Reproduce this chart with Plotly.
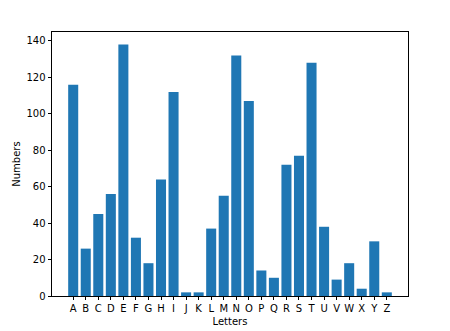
import plotly.graph_objects as go

letters = list("ABCDEFGHIJKLMNOPQRSTUVWXYZ")
numbers = [116, 26, 45, 56, 138, 32, 18, 64, 112, 2, 2, 37, 55, 132, 107, 14, 10, 72, 77, 128, 38, 9, 18, 4, 30, 2]
y_ticks = [0, 20, 40, 60, 80, 100, 120, 140]

x_pos = list(range(len(letters)))

fig = go.Figure(go.Bar(
    x=x_pos, y=numbers, width=0.8,
    marker=dict(color="#1f77b4", line=dict(width=0)),
))

font = dict(family="DejaVu Sans", size=10, color="#000000")
axis_common = dict(
    showline=True, linecolor="#000000", linewidth=0.8, mirror=True,
    ticks="outside", ticklen=3.5, tickwidth=0.8, tickcolor="#000000",
    showgrid=False, zeroline=False, tickfont=font, automargin=False,
)

fig.update_layout(
    width=450, height=331,
    margin=dict(l=52, r=42, t=32, b=35),
    paper_bgcolor="white", plot_bgcolor="white",
    showlegend=False,
    xaxis=dict(range=[-1.69, 26.69], tickvals=x_pos, ticktext=letters,
               title=dict(text="Letters", font=font, standoff=4), **axis_common),
    yaxis=dict(range=[0, 144.9], tickvals=y_ticks,
               title=dict(text="Numbers", font=font, standoff=4), **axis_common),
    font=font,
)

fig.write_html("out.html")
